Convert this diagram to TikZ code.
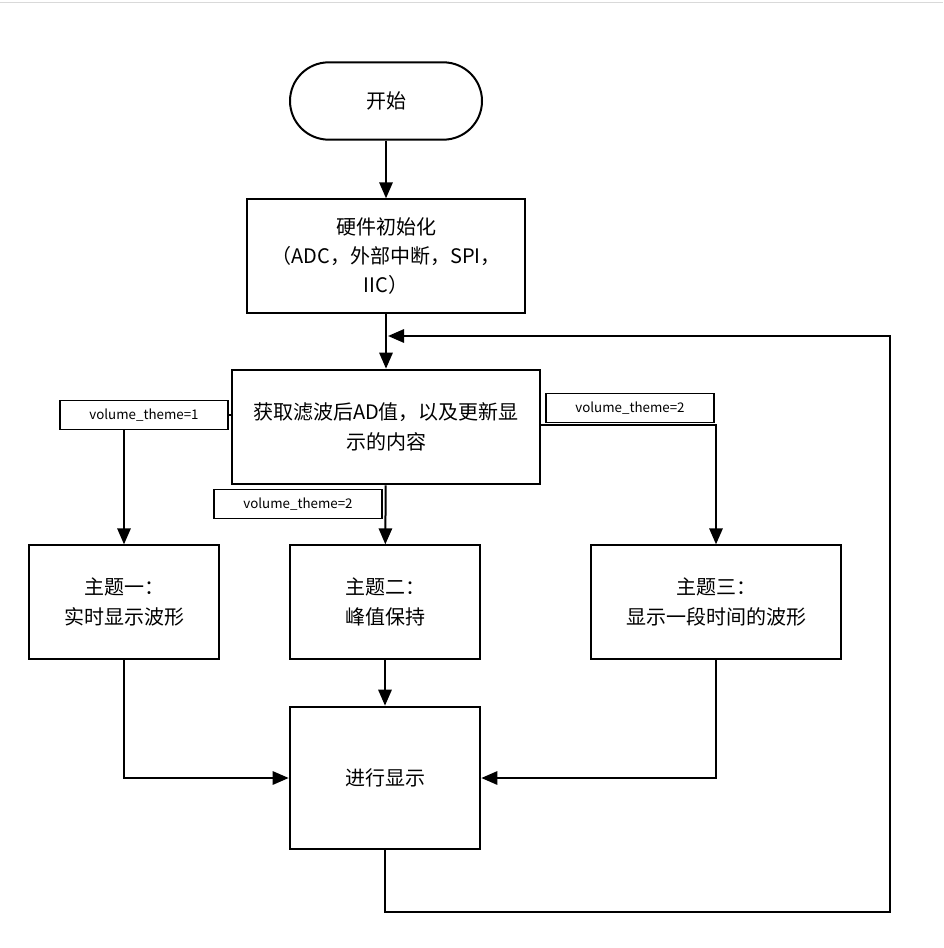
\documentclass[tikz,border=0pt]{standalone}
\usepackage{fontspec}
\setmainfont{Noto Sans CJK SC}
\usetikzlibrary{arrows.meta}

\tikzset{
    box/.style={draw, line width=1.5pt, align=center, font=\fontsize{15}{22}\selectfont},
    tag/.style={draw, line width=1pt, fill=white, font=\fontsize{10}{12}\selectfont, minimum width=126pt, minimum height=22pt, inner sep=0pt},
    flow/.style={line width=1.5pt, -{Triangle[length=12pt,width=10pt]}},
}

\begin{document}
\begin{tikzpicture}[x=0.75pt, y=-0.75pt]
\useasboundingbox (0,0) rectangle (943,948);
\draw[gray!30] (0,2) -- (943,2);

\node[box, rounded corners=29pt, minimum width=144pt, minimum height=58pt] (start) at (386,101) {开始};
\node[box, minimum width=208pt, minimum height=85pt] (init) at (386,256) {硬件初始化\\（ADC，外部中断，SPI，\\IIC）};
\node[box, minimum width=231pt, minimum height=86pt] (get) at (386,427) {获取滤波后AD值，以及更新显\\示的内容};
\node[box, minimum width=143pt, minimum height=85pt] (t1) at (124,602) {主题一：\\实时显示波形};
\node[box, minimum width=143pt, minimum height=85pt] (t2) at (385,602) {主题二：\\峰值保持};
\node[box, minimum width=188pt, minimum height=85pt] (t3) at (716,602) {主题三：\\显示一段时间的波形};
\node[box, minimum width=143pt, minimum height=107pt] (disp) at (385,778) {进行显示};

% main flow
\draw[flow] (start) -- (init);
\draw[flow] (init) -- (get);
\draw[flow] (get.west |- 0,415) -| (t1);
\draw[flow] (get) -- (t2);
\draw[flow] (get.east |- 0,425) -| (t3);
\draw[flow] (t1) |- (disp);
\draw[flow] (t2) -- (disp);
\draw[flow] (t3) |- (disp);

% loop back
\coordinate (c1) at (385,912);
\coordinate (c2) at (890,912);
\coordinate (c3) at (890,336);
\coordinate (c4) at (388,336);
\draw[flow] (disp.south) -- (c1) -- (c2) -- (c3) -- (c4);

% branch tags
\node[tag] (tag1) at (144,415) {volume\_theme=1};
\node[tag] (tag2) at (298,504) {volume\_theme=2};
\node[tag] (tag3) at (630,408) {volume\_theme=2};
\end{tikzpicture}
\end{document}
